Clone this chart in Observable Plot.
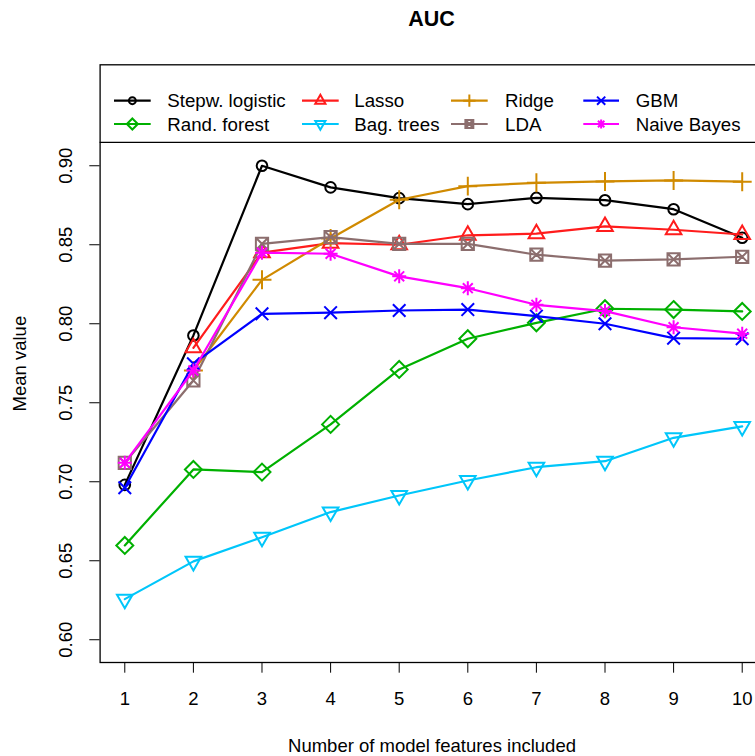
<!DOCTYPE html>
<html><head><meta charset="utf-8">
<script src="https://cdn.jsdelivr.net/npm/d3@7"></script>
<script src="https://cdn.jsdelivr.net/npm/@observablehq/plot@0.6"></script>
<style>body{margin:0;background:#fff;} #chart svg{display:block;overflow:hidden;}</style>
</head><body><div id="chart"></div>
<script>
const titleText = "AUC";
const xLabel = "Number of model features included";
const yLabel = "Mean value";
const features = [1,2,3,4,5,6,7,8,9,10];
const yTicks = [0.60,0.65,0.70,0.75,0.80,0.85,0.90];
const models = ["Stepw. logistic","Rand. forest","Lasso","Bag. trees","Ridge","LDA","GBM","Naive Bayes"];
const stepwLogistic = [0.698,0.7926,0.900,0.8863,0.8795,0.8757,0.8797,0.8782,0.8725,0.8544];
const randForest    = [0.6597,0.7078,0.7061,0.7363,0.7711,0.7905,0.8006,0.8095,0.8090,0.8078];
const lasso         = [null,0.7848,0.845,0.851,0.850,0.856,0.857,0.8616,0.8595,0.8565];
const bagTrees      = [0.6257,0.6496,0.6649,0.6808,0.6913,0.7008,0.7092,0.7130,0.7278,0.7350];
const ridge         = [null,0.7704,0.8278,0.8540,0.8785,0.8871,0.8892,0.8901,0.8907,0.8899];
const lda           = [0.712,0.7641,0.8506,0.8548,0.8506,0.8506,0.8437,0.8400,0.8407,0.8424];
const gbm           = [0.6962,0.7747,0.8063,0.8070,0.8084,0.8090,0.8048,0.8000,0.7909,0.7905];
const naiveBayes    = [0.712,0.7704,0.8450,0.8443,0.8300,0.8225,0.8120,0.8080,0.7978,0.7937];
const colors = ["#000000","#00B000","#FF1C1C","#00C6FA","#D08A00","#8C6E6E","#0000FF","#FF00FF"];

const seriesValues = [stepwLogistic, randForest, lasso, bagTrees, ridge, lda, gbm, naiveBayes];

// R-like plotting symbols
const rad = s => Math.sqrt(s / Math.PI);
const symbols = {
  circle: {draw(c, s){ const R = rad(s); c.moveTo(R,0); c.arc(0,0,R,0,2*Math.PI); c.closePath(); }},
  triUp: {draw(c, s){ const R = rad(s); const r=1.555*R, xc=1.347*R, yc=0.778*R; c.moveTo(0,-r); c.lineTo(xc,yc); c.lineTo(-xc,yc); c.closePath(); }},
  triDown: {draw(c, s){ const R = rad(s); const r=1.555*R, xc=1.347*R, yc=0.778*R; c.moveTo(0,r); c.lineTo(xc,-yc); c.lineTo(-xc,-yc); c.closePath(); }},
  diamond: {draw(c, s){ const d = 1.414*rad(s); c.moveTo(0,-d); c.lineTo(d,0); c.lineTo(0,d); c.lineTo(-d,0); c.closePath(); }},
  plus: {draw(c, s){ const d = 1.414*rad(s); c.moveTo(-d,0); c.lineTo(d,0); c.moveTo(0,-d); c.lineTo(0,d); }},
  times: {draw(c, s){ const d = rad(s); c.moveTo(-d,-d); c.lineTo(d,d); c.moveTo(-d,d); c.lineTo(d,-d); }},
  boxX: {draw(c, s){ const d = 0.886*rad(s); c.moveTo(-d,-d); c.lineTo(d,-d); c.lineTo(d,d); c.lineTo(-d,d); c.closePath(); c.moveTo(-d,-d); c.lineTo(d,d); c.moveTo(-d,d); c.lineTo(d,-d); }},
  star: {draw(c, s){ const R = rad(s); const d = 0.75*R, p = 1.06*R; c.moveTo(-d,-d); c.lineTo(d,d); c.moveTo(-d,d); c.lineTo(d,-d); c.moveTo(-p,0); c.lineTo(p,0); c.moveTo(0,-p); c.lineTo(0,p); }}
};
const seriesSymbols = [symbols.circle, symbols.diamond, symbols.triUp, symbols.triDown, symbols.plus, symbols.boxX, symbols.times, symbols.star];
const seriesR = [5.3, 6.0, 5.8, 5.8, 6.7, 6.9, 6.3, 6.6];

const rows = seriesValues.map((vals, i) =>
  features.map((f, j) => ({x: f, y: vals[j], model: models[i]})).filter(d => d.y != null));

const font = "'Liberation Sans', Arial, Helvetica, sans-serif";
const fs = 18.5;
const marks = [];
rows.forEach((data, i) => {
  marks.push(Plot.line(data, {x: "x", y: "y", stroke: colors[i], strokeWidth: 2.2}));
  marks.push(Plot.dot(data, {x: "x", y: "y", symbol: seriesSymbols[i], r: seriesR[i], stroke: colors[i], fill: "none", strokeWidth: 2}));
});

const plot = Plot.plot({
  width: 755,
  height: 756,
  marginLeft: 99.6,
  marginRight: -11.4,
  marginTop: 64.3,
  marginBottom: 94,
  style: {fontFamily: font, fontSize: fs + "px", background: "#fff", color: "#000"},
  x: {domain: [0.64, 10.36], range: [99.6, 766.4]},
  y: {domain: [0.5856, 0.9639], range: [662, 64.3]},
  marks: [
    ...marks,
    Plot.frame({stroke: "#000", strokeWidth: 1.3}),
    Plot.axisX(features, {tickSize: 10.7, tickPadding: 18.5, fontSize: fs, label: null, tickFormat: d => String(d)}),
    Plot.axisY(yTicks, {tickSize: 10.3, tickFormat: () => "", label: null}),
    Plot.text(yTicks, {y: d => d, text: d => d3.format(".2f")(d), frameAnchor: "left", dx: -34, rotate: -90, textAnchor: "middle", lineAnchor: "middle", fontSize: fs}),
    Plot.text([xLabel], {text: d => d, frameAnchor: "bottom", dx: -1.5, dy: 83.7, lineAnchor: "middle", fontSize: fs}),
    Plot.text([yLabel], {text: d => d, frameAnchor: "left", dx: -79.6, rotate: -90, textAnchor: "middle", lineAnchor: "middle", fontSize: fs}),
    Plot.text([titleText], {text: d => d, frameAnchor: "top", dx: -2, dy: -45.5, lineAnchor: "middle", fontSize: 21.5, fontWeight: "bold"})
  ]
});

// Legend (R-style, inside top of plot box)
const svg = d3.select(plot);
const lg = svg.append("g").attr("font-family", font).attr("font-size", 18.7).attr("text-anchor", "start");
lg.append("line").attr("x1", 99.6).attr("x2", 755).attr("y1", 142.3).attr("y2", 142.3).attr("stroke", "#000").attr("stroke-width", 1.3);
const cols = [[114,150.7,167.3],[302,338.7,354.3],[451,487.7,505],[583.3,619,635.7]];
const rowY = [100.7, 124];
models.forEach((m, i) => {
  const c = cols[Math.floor(i/2)], yy = rowY[i%2];
  lg.append("line").attr("x1", c[0]).attr("x2", c[1]).attr("y1", yy).attr("y2", yy).attr("stroke", colors[i]).attr("stroke-width", 2.2);
  const r = seriesR[i]*0.65;
  lg.append("path").attr("d", d3.symbol().type(seriesSymbols[i]).size(Math.PI*r*r)())
    .attr("transform", `translate(${(c[0]+c[1])/2},${yy})`)
    .attr("fill", "none").attr("stroke", colors[i]).attr("stroke-width", 2);
  lg.append("text").attr("x", c[2]).attr("y", yy).attr("dy", "0.36em").attr("fill", "#000").attr("text-anchor", "start").text(m);
});

document.getElementById("chart").appendChild(plot);
</script>
</body></html>
